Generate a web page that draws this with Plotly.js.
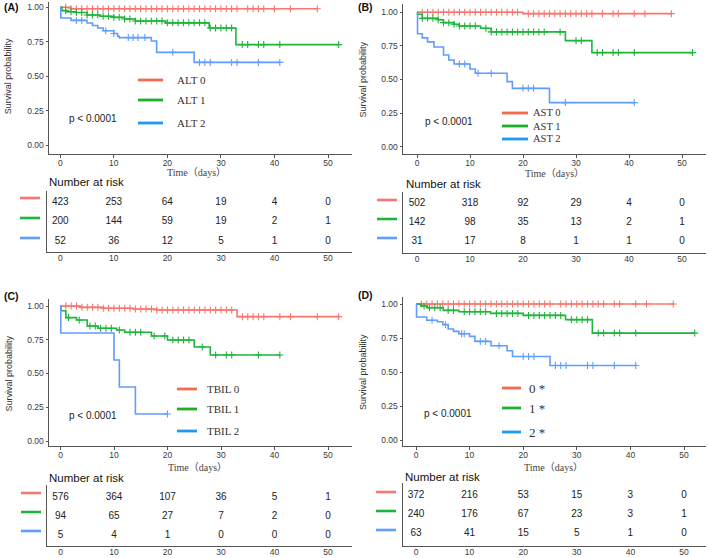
<!DOCTYPE html>
<html><head><meta charset="utf-8">
<script src="https://cdn.plot.ly/plotly-3.0.1.min.js"></script>
<style>html,body{margin:0;padding:0;background:#fff}#chart{width:709px;height:558px}</style>
</head><body><div id="chart"></div>
<script>
// ---------------- DATA ----------------
const timeTicks = [0, 10, 20, 30, 40, 50];
const probTicks = [0, 0.25, 0.5, 0.75, 1];

// Panel A (ALT)
const A_names = ['ALT 0', 'ALT 1', 'ALT 2'];
const A0_t = [0, 2, 48];            const A0_s = [1, 0.99, 0.99];
const A0_c = [1,2,3,4,5,6,7,8,9,10,11,12,13,14,15,16,17,18,19,20,21,22,23,24,25,26,27,28,29,30,31,32,33,35,36,37,38,40,43,48];
const A1_t = [0, 0.3, 1.2, 3, 5, 7.4, 10, 12, 14, 19.7, 27.8, 32.8, 52];
const A1_s = [1, 0.976, 0.968, 0.962, 0.944, 0.935, 0.927, 0.915, 0.90, 0.887, 0.85, 0.729, 0.729];
const A1_c = [1,2,3,4,5,6,7,8,9,10,11,12,13,14,15,16,17,18,19,20,21,22,23,24,25,26,27,28,29,30,31,32,34,35,37,38,41,52];
const A2_t = [0, 0.1, 2, 5, 6, 7, 8, 10, 10.7, 11, 17, 18, 25, 41];
const A2_s = [1, 0.922, 0.905, 0.886, 0.868, 0.85, 0.83, 0.81, 0.79, 0.78, 0.755, 0.673, 0.60, 0.60];
const A2_c = [3, 4, 8.5, 10, 12.7, 13.6, 14.5, 15.8, 21, 26, 27, 28, 32, 33, 37, 41];
const A_risk0 = [423, 253, 64, 19, 4, 0];
const A_risk1 = [200, 144, 59, 19, 2, 1];
const A_risk2 = [52, 36, 12, 5, 1, 0];

// Panel B (AST)
const B_names = ['AST 0', 'AST 1', 'AST 2'];
const B0_t = [0, 20, 48];           const B0_s = [1, 0.99, 0.99];
const B0_c = [1,2,3,4,5,6,7,8,9,10,11,12,13,14,15,16,17,18,19,21,22,23,24,25,26,27,28,29,30,31,32,33,35,37,38,41,43,48];
const B1_t = [0, 0.1, 1, 4, 5, 7, 8, 12, 14, 28, 33, 52];
const B1_s = [1, 0.985, 0.955, 0.945, 0.923, 0.911, 0.898, 0.881, 0.854, 0.789, 0.70, 0.70];
const B1_c = [1,2,3,4,5,6,7,8,9,10,11,13,14,15,16,17,18,19,20,21,22,23,24,27,30,31,34,35,37,38,41,52];
const B2_t = [0, 0.1, 1, 2, 3.2, 5, 6, 7, 10, 11, 17, 18, 25, 41];
const B2_s = [1, 0.84, 0.81, 0.78, 0.742, 0.682, 0.645, 0.615, 0.578, 0.546, 0.484, 0.434, 0.328, 0.328];
const B2_c = [8, 9, 11.5, 14, 20, 21, 22, 28, 41];
const B_risk0 = [502, 318, 92, 29, 4, 0];
const B_risk1 = [142, 98, 35, 13, 2, 1];
const B_risk2 = [31, 17, 8, 1, 1, 0];

// Panel C (TBIL)
const C_names = ['TBIL 0', 'TBIL 1', 'TBIL 2'];
const C0_t = [0, 3.7, 8, 13.6, 18, 33, 52];
const C0_s = [1, 0.99, 0.983, 0.978, 0.97, 0.921, 0.921];
const C0_c = [1,2,3,4,5,6,7,8,9,10,11,12,13,14,15,16,17,18,19,20,21,22,23,24,25,26,27,28,29,30,31,32,34,35,36,37,38,41,43,48,52];
const C1_t = [0, 0.1, 1, 3, 5, 7, 10.5, 12, 17, 20, 25, 28, 41];
const C1_s = [1, 0.965, 0.914, 0.896, 0.852, 0.835, 0.822, 0.805, 0.778, 0.748, 0.696, 0.637, 0.637];
const C1_c = [1.5, 3.5, 5.5, 6.5, 7.5, 8.5, 9.5, 11, 13, 14, 15, 17.5, 19.5, 21, 22, 23, 24, 26.5, 29, 31, 32, 37, 41];
const C2_t = [0, 0.05, 10, 11, 14, 20];
const C2_s = [1, 0.8, 0.6, 0.4, 0.2, 0.2];
const C2_c = [20];
const C_risk0 = [576, 364, 107, 36, 5, 1];
const C_risk1 = [94, 65, 27, 7, 2, 0];
const C_risk2 = [5, 4, 1, 0, 0, 0];

// Panel D
const D_names = ['0 *', '1 *', '2 *'];
const D0_t = [0, 48];               const D0_s = [1, 1];
const D0_c = [1,2,3,4,5,6,7,8,9,10,11,12,13,14,15,16,17,18,19,20,21,22,23,24,25,27,28,29,30,31,32,33,34,35,37,38,41,43,48];
const D1_t = [0, 0.9, 2.1, 5.1, 8, 13.9, 20, 27.9, 32.9, 52];
const D1_s = [1, 0.985, 0.972, 0.953, 0.943, 0.931, 0.916, 0.885, 0.786, 0.786];
const D1_c = [1.5, 2.5, 3.5, 4.5, 6, 7, 9, 10, 11, 12, 13, 15, 16, 17, 18, 19, 21, 22, 23, 24, 25, 26, 27, 29, 30, 31, 32, 34, 35, 37, 38, 41, 52];
const D2_t = [0, 0.1, 2, 4, 5, 6, 7, 8, 10, 11, 14, 17, 18, 25, 41];
const D2_s = [1, 0.904, 0.88, 0.87, 0.848, 0.816, 0.799, 0.781, 0.762, 0.725, 0.693, 0.656, 0.614, 0.548, 0.548];
const D2_c = [3, 5.5, 8.5, 9, 12, 13, 15.5, 20, 21, 22, 26, 27, 28, 32, 33, 37, 41];
const D_risk0 = [372, 216, 53, 15, 3, 0];
const D_risk1 = [240, 176, 67, 23, 3, 1];
const D_risk2 = [63, 41, 15, 5, 1, 0];

const pText = 'p < 0.0001';
const riskTitle = 'Number at risk';
const xTitle = 'Time（days）';
const yTitle = 'Survival probability';

// ---------------- STYLE / LAYOUT ----------------
const W = 709, H = 558;
const curveColors = ['#F8766D', '#1DB53A', '#619CFF'];
const legendColors = ['#F26B4E', '#1CB02A', '#1E9BF0'];
const SANS = 'Liberation Sans, Arial, sans-serif';
const SERIF = 'Liberation Serif, Noto Sans CJK SC, serif';
const px = x => x / W, py = y => 1 - y / H;
function lin(vA, pA, vB, pB, p) { return vA + (p - pA) * (vB - vA) / (pB - pA); }
function stepAt(t, s, x) { let v = s[0]; for (let i = 0; i < t.length; i++) { if (t[i] <= x) v = s[i]; } return v; }

const panels = [
  { label: '(A)', lab: [2, 7], names: A_names,
    curves: [[A0_t, A0_s, A0_c], [A1_t, A1_s, A1_c], [A2_t, A2_s, A2_c]],
    risk: [A_risk0, A_risk1, A_risk2],
    plot: { l: 49, r: 352, t: 2, b: 154, x0: 60.3, x50: 328, y1: 7.3, y0: 145 },
    table: { l: 47, r: 352, t: 191, b: 252, rows: [202, 222, 241] },
    seg: { x1: 20, x2: 40, ys: [198, 218, 238] },
    leg: { x1: 138, x2: 163, tx: 175, ys: [80, 100, 123], size: 11 },
    p: [67, 118], yt: 8, xt: 172, xtx: 196, nar: [47, 182] },
  { label: '(B)', lab: [356, 7], names: B_names,
    curves: [[B0_t, B0_s, B0_c], [B1_t, B1_s, B1_c], [B2_t, B2_s, B2_c]],
    risk: [B_risk0, B_risk1, B_risk2],
    plot: { l: 403, r: 706, t: 4, b: 154, x0: 417, x50: 682, y1: 12.3, y0: 146.7 },
    table: { l: 403, r: 706, t: 192, b: 253, rows: [203, 223, 241] },
    seg: { x1: 377, x2: 397, ys: [200, 219, 238] },
    leg: { x1: 502, x2: 528, tx: 531, ys: [113, 126, 139], size: 10.5 },
    p: [423, 121], yt: 363, xt: 174, xtx: 554, nar: [404, 184] },
  { label: '(C)', lab: [2, 296], names: C_names,
    curves: [[C0_t, C0_s, C0_c], [C1_t, C1_s, C1_c], [C2_t, C2_s, C2_c]],
    risk: [C_risk0, C_risk1, C_risk2],
    plot: { l: 49, r: 352, t: 299, b: 446, x0: 60.5, x50: 328, y1: 306, y0: 441 },
    table: { l: 47, r: 352, t: 485, b: 546, rows: [497, 516, 535] },
    seg: { x1: 21, x2: 41, ys: [493, 512, 531] },
    leg: { x1: 177, x2: 197, tx: 205, ys: [389, 409, 431], size: 11 },
    p: [67, 415], yt: 8, xt: 467.5, xtx: 197, nar: [47, 477.5] },
  { label: '(D)', lab: [356, 295], names: D_names,
    curves: [[D0_t, D0_s, D0_c], [D1_t, D1_s, D1_c], [D2_t, D2_s, D2_c]],
    risk: [D_risk0, D_risk1, D_risk2],
    plot: { l: 403, r: 706, t: 297, b: 446, x0: 416, x50: 684, y1: 304, y0: 440 },
    table: { l: 403, r: 706, t: 483, b: 546, rows: [495, 514, 533] },
    seg: { x1: 376, x2: 396, ys: [492, 511, 530] },
    leg: { x1: 502, x2: 521, tx: 527, ys: [388, 408, 432], size: 13 },
    p: [422, 413], yt: 363, xt: 467, xtx: 553, nar: [403, 476.5] }
];

const traces = [];
const layout = {
  width: W, height: H, margin: { l: 0, r: 0, t: 0, b: 0 },
  paper_bgcolor: '#fff', plot_bgcolor: 'rgba(0,0,0,0)', showlegend: false,
  font: { family: SANS, color: '#333' },
  annotations: [], shapes: []
};

panels.forEach((P, i) => {
  const np = 2 * i + 1, nt = 2 * i + 2;
  const xa = 'x' + (np === 1 ? '' : np), ya = 'y' + (np === 1 ? '' : np);
  const xt = 'x' + nt, yt = 'y' + nt;
  const pl = P.plot, tb = P.table;
  const xr = [lin(0, pl.x0, 50, pl.x50, pl.l), lin(0, pl.x0, 50, pl.x50, pl.r)];
  const yr = [lin(1, pl.y1, 0, pl.y0, pl.b), lin(1, pl.y1, 0, pl.y0, pl.t)];
  const axCommon = { showline: true, linecolor: '#555', linewidth: 1, showgrid: false, zeroline: false,
                     ticks: 'outside', ticklen: 2.5, tickcolor: '#555', tickfont: { size: 8.5, color: '#3a3a3a', family: SANS } };
  layout['xaxis' + (np === 1 ? '' : np)] = Object.assign({}, axCommon, {
    domain: [px(pl.l), px(pl.r)], range: xr, anchor: ya, tickvals: timeTicks, ticklabelstandoff: -2 });
  layout['yaxis' + (np === 1 ? '' : np)] = Object.assign({}, axCommon, {
    domain: [py(pl.b), py(pl.t)], range: yr, anchor: xa, tickvals: probTicks, tickformat: '.2f' });
  // table axes
  const tyr = [lin(3, tb.rows[0], 1, tb.rows[2], tb.b), lin(3, tb.rows[0], 1, tb.rows[2], tb.t)];
  const txr = [lin(0, pl.x0, 50, pl.x50, tb.l), lin(0, pl.x0, 50, pl.x50, tb.r)];
  layout['xaxis' + nt] = { domain: [px(tb.l), px(tb.r)], range: txr, anchor: yt, showline: true, linecolor: '#555',
    linewidth: 1, showgrid: false, zeroline: false, ticks: '', tickvals: timeTicks, ticklabelstandoff: -2,
    tickfont: { size: 8.5, color: '#3a3a3a', family: SANS } };
  layout['yaxis' + nt] = { domain: [py(tb.b), py(tb.t)], range: tyr, anchor: xt, showline: true, linecolor: '#555',
    linewidth: 1, showgrid: false, zeroline: false, showticklabels: false, ticks: '' };

  // survival curves
  P.curves.forEach((c, k) => {
    const [t, s, cens] = c;
    traces.push({ type: 'scatter', mode: 'lines', x: t, y: s, xaxis: xa, yaxis: ya,
      line: { shape: 'hv', color: curveColors[k], width: 1.6 }, hoverinfo: 'skip', cliponaxis: false });
    traces.push({ type: 'scatter', mode: 'markers', x: cens, y: cens.map(v => stepAt(t, s, v)), xaxis: xa, yaxis: ya,
      marker: { symbol: 'cross-thin-open', size: 5, color: curveColors[k], line: { width: 1.1, color: curveColors[k] } },
      hoverinfo: 'skip', cliponaxis: false });
  });
  // risk table numbers
  P.risk.forEach((row, k) => {
    traces.push({ type: 'scatter', mode: 'text', x: timeTicks, y: timeTicks.map(() => 3 - k), text: row.map(String),
      textfont: { size: 10, color: '#222', family: SANS }, xaxis: xt, yaxis: yt, hoverinfo: 'skip', cliponaxis: false });
    layout.shapes.push({ type: 'line', xref: 'paper', yref: 'paper', x0: px(P.seg.x1), x1: px(P.seg.x2),
      y0: py(P.seg.ys[k]), y1: py(P.seg.ys[k]), line: { color: curveColors[k], width: 2.6 } });
    // legend
    layout.shapes.push({ type: 'line', xref: 'paper', yref: 'paper', x0: px(P.leg.x1), x1: px(P.leg.x2),
      y0: py(P.leg.ys[k]), y1: py(P.leg.ys[k]), line: { color: legendColors[k], width: 2.8 } });
    layout.annotations.push({ xref: 'paper', yref: 'paper', x: px(P.leg.tx), y: py(P.leg.ys[k]), xanchor: 'left',
      yanchor: 'middle', showarrow: false, text: P.names[k], font: { family: SERIF, size: P.leg.size, color: '#333' } });
  });
  // texts
  layout.annotations.push({ xref: 'paper', yref: 'paper', x: px(P.lab[0]), y: py(P.lab[1]), xanchor: 'left', yanchor: 'middle',
    showarrow: false, text: '<b>' + P.label + '</b>', font: { size: 10.5, color: '#111', family: SANS } });
  layout.annotations.push({ xref: 'paper', yref: 'paper', x: px(P.p[0]), y: py(P.p[1]), xanchor: 'left', yanchor: 'middle',
    showarrow: false, text: pText, font: { size: 10, color: '#222', family: SANS } });
  layout.annotations.push({ xref: 'paper', yref: 'paper', x: px(P.yt), y: py((pl.y1 + pl.y0) / 2), xanchor: 'center', yanchor: 'middle',
    textangle: -90, showarrow: false, text: yTitle, font: { size: 9, color: '#333', family: SANS } });
  layout.annotations.push({ xref: 'paper', yref: 'paper', x: px(P.xtx), y: py(P.xt), xanchor: 'center', yanchor: 'middle',
    showarrow: false, text: xTitle, font: { size: 10, color: '#444', family: SERIF } });
  layout.annotations.push({ xref: 'paper', yref: 'paper', x: px(P.nar[0]), y: py(P.nar[1]), xanchor: 'left', yanchor: 'middle',
    showarrow: false, text: riskTitle, font: { size: 11.5, color: '#111', family: SANS } });
});

Plotly.newPlot('chart', traces, layout, { staticPlot: true, displayModeBar: false });
</script>
</body></html>
